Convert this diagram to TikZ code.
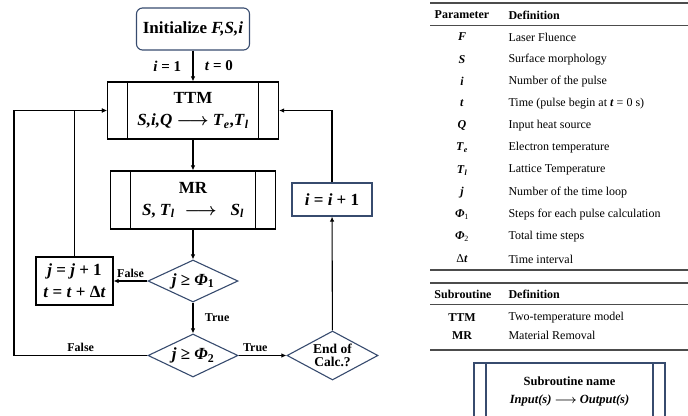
\documentclass[tikz,border=0pt]{standalone}
\usepackage{amsmath}
\usepackage{fontspec}
\setmainfont{Liberation Serif}
\usetikzlibrary{arrows.meta,shapes.geometric}
\definecolor{flowblue}{RGB}{55,75,110}
\newcommand{\bvar}[1]{\textbf{\textit{#1}}}
\newcommand{\lto}{$\boldsymbol{\longrightarrow}$}

\begin{document}
\begin{tikzpicture}[x=1pt,y=-1pt,line width=1.1pt,
  every node/.style={font=\fontsize{17}{22}\selectfont\bfseries},
  box/.style={draw,inner sep=2pt,align=center},
  subrline/.style={},
  subr/.style={box,path picture={\draw[subrline] ([xshift=#1pt]path picture bounding box.north west)--([xshift=#1pt]path picture bounding box.south west) ([xshift=-#1pt]path picture bounding box.north east)--([xshift=-#1pt]path picture bounding box.south east);}},
  subr/.default=20,
  cond/.style={draw=flowblue,diamond,inner sep=0pt},
  arr/.style={-{Latex[length=5pt,width=4.5pt]}},
  lbl/.style={font=\fontsize{12}{14}\selectfont\bfseries},
  tab/.style={font=\fontsize{12}{14}\selectfont,inner sep=0pt},
  rule/.style={draw=black!70}]
\useasboundingbox (0,0) rectangle (688,415);
\clip (0,0) rectangle (688,415);
% flow chart
\node[box,draw=flowblue,rounded corners=6pt,minimum width=113pt,minimum height=42pt] (init) at (193,29) {Initialize \bvar{F,S,i}};
\node[subr,minimum width=171pt,minimum height=57pt] (ttm) at (193,110.5) {TTM\\\bvar{S,i,Q} \lto{} \bvar{T}\textsubscript{\bvar{e}},\bvar{T}\textsubscript{\bvar{l}}};
\node[subr,minimum width=165pt,minimum height=58pt] (mr) at (193,200) {MR\\\bvar{S}, \bvar{T}\textsubscript{\bvar{l}}\hspace{10pt}\lto\hspace{14pt}\bvar{S}\textsubscript{\bvar{l}}};
\node[box,draw=flowblue,minimum width=80pt,minimum height=33pt] (inc) at (332,199.5) {\bvar{i} = \bvar{i} + 1};
\node[cond,minimum width=90pt,minimum height=42pt] (d1) at (193,281) {\makebox[0pt]{\bvar{j} ≥ \bvar{Φ}\textsubscript{1}}};
\node[box,minimum width=77pt,minimum height=48pt] (upd) at (74.5,281) {\bvar{j} = \bvar{j} + 1\\\bvar{t} = \bvar{t} + Δ\bvar{t}};
\node[cond,minimum width=90pt,minimum height=43pt] (d2) at (193,355.5) {\makebox[0pt]{\bvar{j} ≥ \bvar{Φ}\textsubscript{2}}};
\node[cond,minimum width=91pt,minimum height=49pt,font=\fontsize{13.5}{15}\selectfont\bfseries] (endc) at (332.5,355.5) {\makebox[0pt]{\shortstack{End of\\Calc.?}}};
\coordinate (lft) at (14,355.5);
\draw[arr] (init) -- node[left=8pt,font=\fontsize{15}{18}\selectfont\bfseries]{\bvar{i} = 1} node[right=8pt,font=\fontsize{15}{18}\selectfont\bfseries]{\bvar{t} = 0} (ttm);
\draw[arr] (ttm) -- (mr);
\draw[arr] (mr) -- (d1);
\draw[arr] (d1) -- node[lbl,above]{False} (upd);
\draw[arr] (upd.north) |- (ttm.west);
\draw[arr] (d1) -- node[lbl,right=8pt]{True} (d2);
\draw[arr] (d2) -- node[lbl,above]{False} (lft) |- (ttm.west);
\draw[arr] (d2) -- node[lbl,above,pos=0.35]{True} (endc);
\draw[arr] (endc) -- (inc);
\draw[arr] (inc.north) |- (ttm.east);
% tables
\draw[rule,line width=1.4pt] (430,3) -- (688,3);
\draw[rule,line width=0.8pt] (430,25) -- (688,25);
\node[tab,font=\fontsize{12}{14}\selectfont\bfseries] (phead) at (462,15) {Parameter};
\node[tab,anchor=west,font=\fontsize{12}{14}\selectfont\bfseries] (dhead) at (508,15) {Definition};
\foreach \y/\p/\d [count=\k] in {37/\bvar{F}/Laser Fluence, 59.2/\bvar{S}/Surface morphology, 81.4/\bvar{i}/Number of the pulse, 103.6/\bvar{t}/Time (pulse begin at \bvar{t} = 0 s), 125.8/\bvar{Q}/Input heat source, 148/\bvar{T}\textsubscript{\bvar{e}}/Electron temperature, 170.2/\bvar{T}\textsubscript{\bvar{l}}/Lattice Temperature, 192.4/\bvar{j}/Number of the time loop, 214.6/\bvar{Φ}\textsubscript{1}/Steps for each pulse calculation, 236.8/\bvar{Φ}\textsubscript{2}/Total time steps, 259/Δ\bvar{t}/Time interval}{
  \node[tab] (p\k) at (462,\y) {\p};
  \node[tab,anchor=west] (d\k) at (508,\y) {\d};}
\draw[rule,line width=1.5pt] (430,270) -- (688,270);
\draw[rule,line width=1.4pt] (430,283) -- (688,283);
\draw[rule,line width=0.8pt] (430,304) -- (688,304);
\node[tab,font=\fontsize{12}{14}\selectfont\bfseries] (shead) at (463,294) {Subroutine};
\node[tab,anchor=west,font=\fontsize{12}{14}\selectfont\bfseries] (sdef) at (508,294) {Definition};
\node[tab,font=\fontsize{12}{14}\selectfont\bfseries] (s1) at (462,317.5) {TTM};
\node[tab,anchor=west] (sd1) at (508,317.5) {Two-temperature model};
\node[tab,font=\fontsize{12}{14}\selectfont\bfseries] (s2) at (462,335.5) {MR};
\node[tab,anchor=west] (sd2) at (508,335.5) {Material Removal};
\draw[rule,line width=1.5pt] (430,350) -- (688,350);
% legend
\node[subr=12,draw=flowblue,subrline/.style={flowblue},minimum width=191pt,minimum height=56pt,font=\fontsize{12.5}{18}\selectfont\bfseries] (legend) at (569.5,391) {Subroutine name\\\bvar{Input(s)} \lto{} \bvar{Output(s)}};
\end{tikzpicture}
\end{document}
